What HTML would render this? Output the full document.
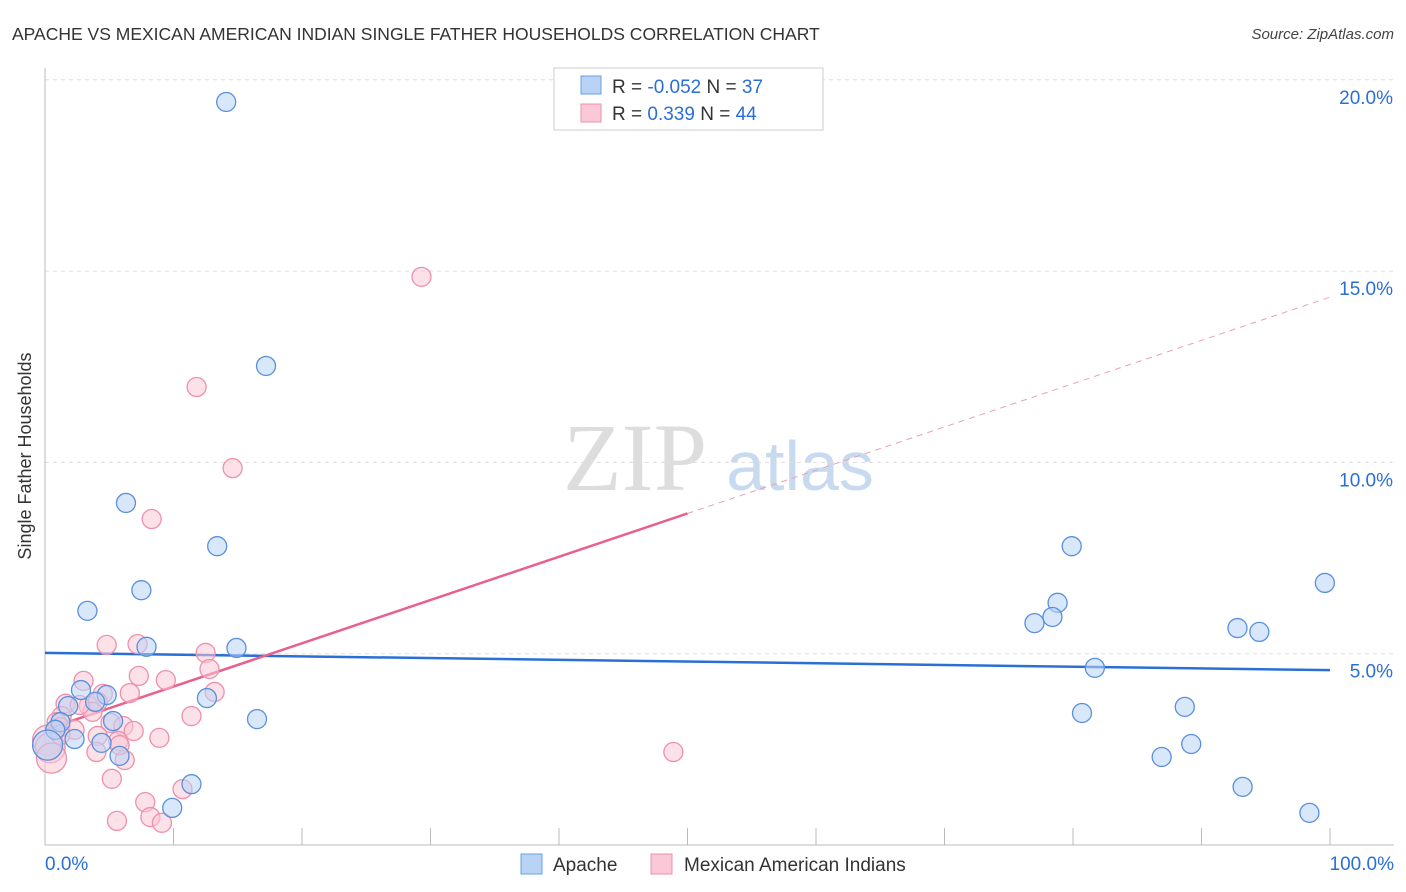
<!DOCTYPE html>
<html><head><meta charset="utf-8"><style>
body{margin:0;background:#fff;font-family:"Liberation Sans",sans-serif;}
#c{position:relative;width:1406px;height:892px;overflow:hidden;}
</style></head><body>
<div id="c">
<svg id="s" width="1406" height="892" xmlns="http://www.w3.org/2000/svg">
<text x="12" y="40" font-size="17.5" fill="#333">APACHE VS MEXICAN AMERICAN INDIAN SINGLE FATHER HOUSEHOLDS CORRELATION CHART</text>
<text x="1394" y="39" font-size="15" fill="#444" font-style="italic" text-anchor="end">Source: ZipAtlas.com</text>
<text x="31" y="456" font-size="18" fill="#333" text-anchor="middle" transform="rotate(-90 31 456)">Single Father Households</text>
<g><text x="635" y="490" font-size="96" font-family="Liberation Serif,serif" fill="#ddd" text-anchor="middle">ZIP</text><text x="800" y="490" font-size="70" fill="#c8daf0" text-anchor="middle">atlas</text></g>
<g id="grid"></g><g id="axes"></g><g id="trend"></g><g id="pts"></g>
<g>
<rect x="554" y="68" width="269" height="62" fill="#fff" stroke="#ccc"/>
<rect x="581" y="76" width="20" height="18" fill="#b9d3f5" stroke="#6a9fe0"/>
<rect x="581" y="104" width="20" height="18" fill="#fac8d6" stroke="#ee90ab"/>
<text x="612" y="93" font-size="19" fill="#333">R = <tspan fill="#2a6fd6">-0.052</tspan>   N = <tspan fill="#2a6fd6">37</tspan></text>
<text x="612" y="120" font-size="19" fill="#333">R =   <tspan fill="#2a6fd6">0.339</tspan>   N = <tspan fill="#2a6fd6">44</tspan></text>
</g>
<g>
<rect x="521" y="854" width="21" height="20" fill="#b9d3f5" stroke="#6a9fe0"/>
<text x="553" y="871" font-size="19" fill="#333">Apache</text>
<rect x="651" y="854" width="21" height="20" fill="#fac8d6" stroke="#ee90ab"/>
<text x="684" y="871" font-size="19" fill="#333">Mexican American Indians</text>
</g>
</svg></div>
<script>
const yTicks=[5,10,15,20];
const yTickLabels=["5.0%","10.0%","15.0%","20.0%"];
const xTickLabels=["0.0%","100.0%"];
const apacheX=[14.1,17.2,6.3,13.4,7.5,3.3,7.9,14.9,2.8,4.8,12.6,3.9,1.8,5.3,16.5,1.2,0.8,2.3,4.4,5.8,11.4,9.9,0.2,79.9,78.8,78.4,77.0,99.6,92.8,94.5,81.7,80.7,88.7,89.2,86.9,93.2,98.4];
const apacheY=[19.42,12.52,8.94,7.81,6.66,6.12,5.18,5.15,4.05,3.92,3.84,3.74,3.63,3.24,3.29,3.21,3.01,2.77,2.67,2.33,1.59,0.97,2.61,7.81,6.33,5.96,5.80,6.85,5.67,5.57,4.63,3.45,3.61,2.64,2.30,1.52,0.84];
const mexX=[29.3,11.8,14.6,8.3,4.8,7.2,12.5,7.3,3.0,9.4,12.8,6.6,4.5,13.2,1.6,3.4,4.1,3.7,11.4,1.3,0.9,5.1,1.2,6.1,6.9,2.3,4.1,5.7,8.9,6.2,4.0,5.2,7.8,10.7,8.2,5.6,9.1,48.9,0.2,0.4,0.5,1.2,2.7,5.8];
const mexY=[14.85,11.97,9.85,8.52,5.23,5.25,5.02,4.42,4.29,4.31,4.60,3.97,3.95,4.00,3.69,3.63,3.74,3.48,3.37,3.37,3.21,3.19,3.08,3.11,2.98,3.01,2.85,2.72,2.80,2.22,2.43,1.73,1.12,1.46,0.73,0.63,0.58,2.43,2.74,2.54,2.27,2.88,3.66,2.61];
const apacheTrend=[5.02,4.57];
const mexTrend=[3.01,14.32];
const mexSolidEnd=50;
const NS="http://www.w3.org/2000/svg";
const X0=45,X1=1330,Y0=845,PY=38.26;
const sx=v=>X0+(X1-X0)*v/100, sy=v=>Y0-v*PY;
function mk(t,a,p){const e=document.createElementNS(NS,t);for(const k in a)e.setAttribute(k,a[k]);p.appendChild(e);return e;}
const grid=document.getElementById('grid'),axes=document.getElementById('axes'),trend=document.getElementById('trend'),pts=document.getElementById('pts');
yTicks.forEach((v,i)=>{
 const l=mk('line',{x1:X0,x2:1394,y1:sy(v),y2:sy(v),stroke:'#ddd','stroke-dasharray':'4,4'},grid);
 
 
 const t=mk('text',{x:1393,y:sy(v)+24,'font-size':19,fill:'#2a6fd6','text-anchor':'end'},axes);t.textContent=yTickLabels[i];
 
 
});
const ax=mk('line',{x1:X0,x2:X0,y1:68,y2:Y0,stroke:'#bbb'},axes);


const bx=mk('line',{x1:X0,x2:1394,y1:Y0,y2:Y0,stroke:'#bbb'},axes);


for(let k=1;k<=10;k++){const t=mk('line',{x1:sx(k*10),x2:sx(k*10),y1:828,y2:Y0,stroke:'#bbb'},axes);
 
 }
[[0,'start',45],[100,'end',1394]].forEach((d,i)=>{const t=mk('text',{x:d[2],y:870,'font-size':19,fill:'#2a6fd6','text-anchor':d[1]},axes);t.textContent=xTickLabels[i];
 
 });
function dot(x,y,f,s,name,r){const c=mk('circle',{cx:sx(x),cy:sy(y),r:r,fill:f,stroke:s,'stroke-width':1.3,'fill-opacity':0.55},pts);
 
 }
mexX.forEach((x,i)=>dot(x,mexY[i],'#fac8d6','#ee90ab','point-mexican',x<0.6?15:9.5));
apacheX.forEach((x,i)=>dot(x,apacheY[i],'#b9d3f5','#5a90dc','point-apache',x<0.6?15:9.5));
const ly=x=>mexTrend[0]+(mexTrend[1]-mexTrend[0])*x/100;
const t1=mk('line',{x1:sx(0),y1:sy(apacheTrend[0]),x2:sx(100),y2:sy(apacheTrend[1]),stroke:'#2a6fd6','stroke-width':2.5},trend);


const t2=mk('line',{x1:sx(0),y1:sy(ly(0)),x2:sx(mexSolidEnd),y2:sy(ly(mexSolidEnd)),stroke:'#e8608e','stroke-width':2.5},trend);


const t3=mk('line',{x1:sx(mexSolidEnd),y1:sy(ly(mexSolidEnd)),x2:sx(100),y2:sy(ly(100)),stroke:'#e8a0b8','stroke-width':1,'stroke-dasharray':'6,5'},trend);


</script>
</body></html>
